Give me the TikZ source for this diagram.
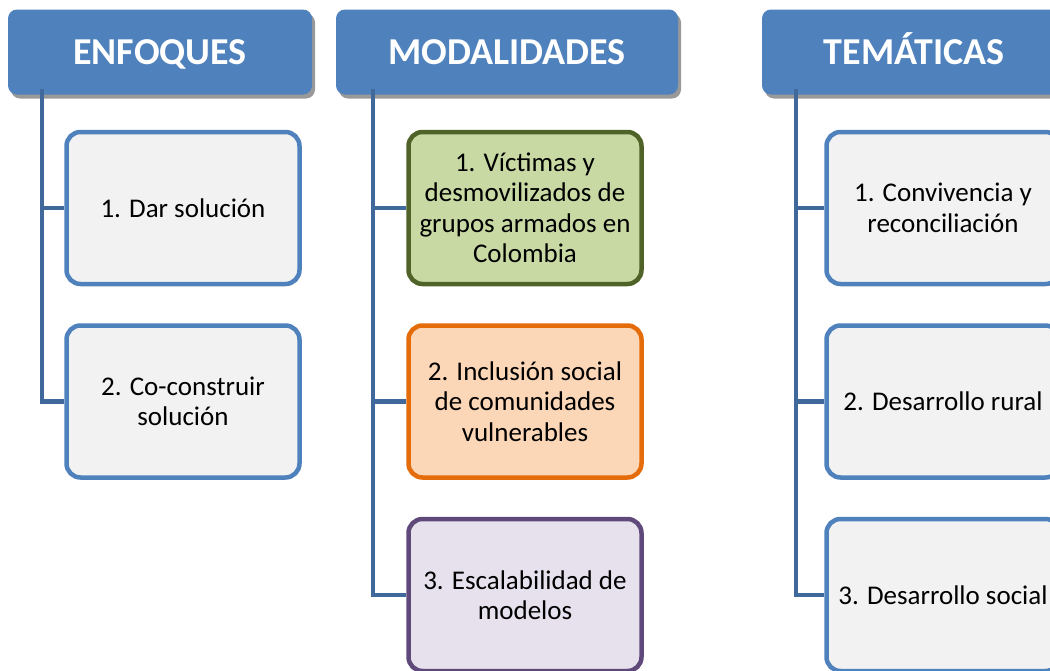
\documentclass[tikz,border=0pt]{standalone}
\usepackage{fontspec}
\setmainfont{Carlito}
\usetikzlibrary{positioning,shadows}

\definecolor{headblue}{HTML}{4F81BD}
\definecolor{linkblue}{HTML}{41689A}
\definecolor{boxfill}{HTML}{F2F2F2}
\definecolor{olivedark}{HTML}{4F6228}
\definecolor{olivefill}{HTML}{C8D9A4}
\definecolor{orangedark}{HTML}{E46C0A}
\definecolor{orangefill}{HTML}{FBD6B7}
\definecolor{plumdark}{HTML}{5F497A}
\definecolor{plumfill}{HTML}{E6E1EC}

\begin{document}
\begin{tikzpicture}
[x=1pt,y=-1pt,
head/.style={rectangle,rounded corners=9pt,fill=headblue,text=white,minimum height=85pt,
  text height=26pt,text depth=2pt,font=\fontsize{38}{42}\selectfont\bfseries,
  drop shadow={shadow xshift=3pt,shadow yshift=-4pt,fill=black!40,opacity=1}},
item/.style={rectangle,rounded corners=14pt,line width=4.5pt,draw=headblue,fill=boxfill,
  minimum width=233pt,minimum height=152pt,align=center,font=\fontsize{27}{30.5}\selectfont},
link/.style={draw=linkblue,line width=4.5pt}]
\path[use as bounding box,clip] (0,0) rectangle (1050,670);

% cabeceras
\node[head,minimum width=304pt] (enf) at (160,52) {ENFOQUES};
\node[head,minimum width=342pt] (mod) at (507,52) {MODALIDADES};
\node[head,minimum width=304pt] (tem) at (914,52) {TEMÁTICAS};

% enfoques
\node[item] (e1) at (183,208) {1. Dar solución};
\node[item,below=37pt of e1] (e2) {2. Co-construir\\solución};

% modalidades
\node[item,draw=olivedark,fill=olivefill] (m1) at (525,208)
  {1. Víctimas y\\desmovilizados de\\grupos armados en\\Colombia};
\node[item,draw=orangedark,fill=orangefill,below=37pt of m1] (m2)
  {2. Inclusión social\\de comunidades\\vulnerables};
\node[item,draw=plumdark,fill=plumfill,below=37pt of m2] (m3)
  {3. Escalabilidad de\\modelos};

% tematicas
\node[item] (t1) at (943,208) {1. Convivencia y\\reconciliación};
\node[item,below=37pt of t1] (t2) {2. Desarrollo rural};
\node[item,below=37pt of t2] (t3) {3. Desarrollo social};

% conectores
\coordinate (ea) at (42,89);
\coordinate (ma) at (373,89);
\coordinate (ta) at (796,89);
\draw[link] (ea) |- (e2.west);
\draw[link] (ea |- e1.west) -- (e1.west);
\draw[link] (ma) |- (m3.west);
\draw[link] (ma |- m1.west) -- (m1.west);
\draw[link] (ma |- m2.west) -- (m2.west);
\draw[link] (ta) |- (t3.west);
\draw[link] (ta |- t1.west) -- (t1.west);
\draw[link] (ta |- t2.west) -- (t2.west);
\end{tikzpicture}
\end{document}
